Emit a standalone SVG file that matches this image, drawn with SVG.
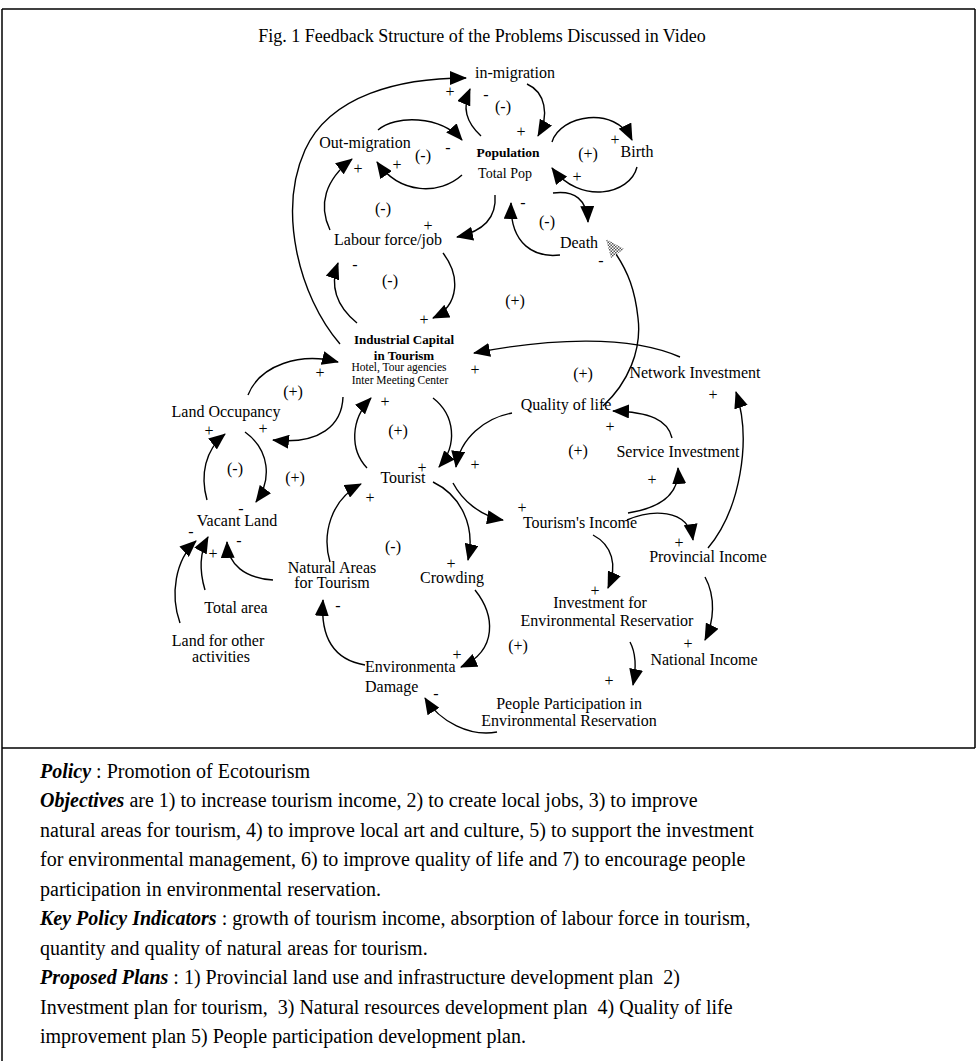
<svg xmlns="http://www.w3.org/2000/svg" width="977" height="1061" viewBox="0 0 977 1061">
<style>
.t{font-family:"Liberation Serif","Times New Roman",serif;font-size:16px;fill:#000;text-anchor:middle}
.s{font-family:"Liberation Serif","Times New Roman",serif;font-size:16px;fill:#000;text-anchor:middle}
.b{font-family:"Liberation Serif","Times New Roman",serif;font-size:13px;font-weight:bold;fill:#000;text-anchor:middle}
.sm{font-family:"Liberation Serif","Times New Roman",serif;font-size:11.5px;fill:#000;text-anchor:middle}
.p{font-family:"Liberation Serif","Times New Roman",serif;font-size:20px;fill:#000;white-space:pre}
.bi{font-weight:bold;font-style:italic}
.c{fill:none;stroke:#000;stroke-width:1.4;marker-end:url(#ah)}
.c0{fill:none;stroke:#000;stroke-width:1.4}
.frame{stroke:#000;stroke-width:1.5;fill:none}
</style>
<defs>
<marker id="ah" viewBox="0 0 17 14" refX="16" refY="7" markerWidth="17" markerHeight="14" markerUnits="userSpaceOnUse" orient="auto">
<path d="M0,0 L17,7 L0,14 z" fill="#000"/>
</marker>
<pattern id="hatch" width="3" height="3" patternUnits="userSpaceOnUse">
<rect width="3" height="3" fill="#fff"/>
<rect width="1.5" height="1.5" fill="#555"/>
<rect x="1.5" y="1.5" width="1.5" height="1.5" fill="#555"/>
</pattern>
</defs>
<rect width="977" height="1061" fill="#fff"/>
<g id="frame">
<line class="frame" x1="2" y1="9" x2="975" y2="9"/>
<line class="frame" x1="2" y1="9" x2="2" y2="1061"/>
<line class="frame" x1="975" y1="9" x2="975" y2="748"/>
<line class="frame" x1="2" y1="748" x2="975" y2="748"/>
</g>
<text id="title" x="482" y="42" class="t" style="font-size:18px">Fig. 1  Feedback Structure of the Problems Discussed in Video</text>

<g id="connectors">
<path class="c" d="M340,344 C298,295 278,210 305,150 C330,95 400,78 466,78"/>
<path class="c" d="M481,136 C466,122 462,108 470,89"/>
<path class="c" d="M527,84 C545,92 550,115 538,136"/>
<path class="c" d="M378,130 C395,115 440,115 462,140"/>
<path class="c" d="M462,175 C440,195 400,195 377,162"/>
<path class="c" d="M330,230 C318,205 325,180 352,159"/>
<path class="c" d="M495,195 C497,220 480,232 457,237"/>
<path class="c" d="M560,255 C535,258 510,245 511,203"/>
<path class="c" d="M552,142 C560,115 615,105 632,140"/>
<path class="c" d="M637,167 C630,195 580,205 552,168"/>
<path class="c" d="M553,193 C575,190 587,200 588,222"/>
<path class="c" d="M443,253 C460,275 460,305 433,318"/>
<path class="c" d="M357,323 C335,305 330,285 338,263"/>
<path class="c" d="M680,357 C630,335 550,338 474,353"/>
<path class="c0" d="M603,406 C628,383 642,350 638,318 C635,290 628,272 616,254"/>
<path class="c" d="M343,397 C342,425 320,445 273,440"/>
<path class="c" d="M248,395 C260,365 300,352 338,362"/>
<path class="c" d="M207,500 C200,475 205,450 225,434"/>
<path class="c" d="M245,432 C270,450 272,480 256,502"/>
<path class="c" d="M433,398 C455,415 458,445 439,467"/>
<path class="c" d="M367,468 C350,450 350,420 371,398"/>
<path class="c" d="M512,413 C485,418 460,438 456,467"/>
<path class="c" d="M330,562 C322,535 330,500 361,484"/>
<path class="c" d="M453,483 C462,500 480,516 503,520"/>
<path class="c" d="M433,482 C460,495 476,525 468,560"/>
<path class="c" d="M672,438 C668,420 650,412 613,411"/>
<path class="c" d="M628,513 C660,508 680,495 678,468"/>
<path class="c" d="M627,520 C650,510 688,507 693,540"/>
<path class="c" d="M708,548 C740,510 752,440 736,392"/>
<path class="c" d="M705,577 C716,597 714,622 705,640"/>
<path class="c" d="M593,535 C612,545 618,565 608,588"/>
<path class="c" d="M630,642 C637,655 636,670 633,685"/>
<path class="c" d="M497,732 C470,737 440,722 425,698"/>
<path class="c" d="M475,590 C495,615 498,650 461,667"/>
<path class="c" d="M365,665 C335,660 320,640 323,600"/>
<path class="c" d="M180,623 C170,595 175,560 196,541"/>
<path class="c" d="M205,590 C199,570 200,552 208,537"/>
<path class="c" d="M273,580 C245,578 228,565 227,542"/>
<polygon points="606,239 611,258 624,249" fill="url(#hatch)"/>
</g>

<g id="signs">
<text class="s" x="450" y="97">+</text>
<text class="s" x="486" y="100">-</text>
<text class="s" x="503" y="112">(-)</text>
<text class="s" x="521" y="137">+</text>
<text class="s" x="448" y="153">-</text>
<text class="s" x="423" y="161">(-)</text>
<text class="s" x="397" y="170">+</text>
<text class="s" x="358" y="174">+</text>
<text class="s" x="383" y="214">(-)</text>
<text class="s" x="428" y="231">+</text>
<text class="s" x="523" y="208">-</text>
<text class="s" x="547" y="227">(-)</text>
<text class="s" x="615" y="145">+</text>
<text class="s" x="588" y="159">(+)</text>
<text class="s" x="577" y="182">+</text>
<text class="s" x="601" y="266">-</text>
<text class="s" x="355" y="270">-</text>
<text class="s" x="390" y="286">(-)</text>
<text class="s" x="424" y="325">+</text>
<text class="s" x="515" y="306">(+)</text>
<text class="s" x="475" y="375">+</text>
<text class="s" x="583" y="379">(+)</text>
<text class="s" x="320" y="378">+</text>
<text class="s" x="293" y="397">(+)</text>
<text class="s" x="263" y="434">+</text>
<text class="s" x="209" y="436">+</text>
<text class="s" x="235" y="474">(-)</text>
<text class="s" x="295" y="483">(+)</text>
<text class="s" x="385" y="407">+</text>
<text class="s" x="398" y="436">(+)</text>
<text class="s" x="422" y="473">+</text>
<text class="s" x="475" y="470">+</text>
<text class="s" x="370" y="503">+</text>
<text class="s" x="610" y="432">+</text>
<text class="s" x="578" y="456">(+)</text>
<text class="s" x="713" y="400">+</text>
<text class="s" x="652" y="485">+</text>
<text class="s" x="522" y="513">+</text>
<text class="s" x="679" y="548">+</text>
<text class="s" x="451" y="569">+</text>
<text class="s" x="595" y="596">+</text>
<text class="s" x="393" y="552">(-)</text>
<text class="s" x="241" y="514">-</text>
<text class="s" x="191" y="537">-</text>
<text class="s" x="213" y="559">+</text>
<text class="s" x="239" y="546">-</text>
<text class="s" x="338" y="611">-</text>
<text class="s" x="457" y="660">+</text>
<text class="s" x="518" y="651">(+)</text>
<text class="s" x="688" y="649">+</text>
<text class="s" x="609" y="686">+</text>
<text class="s" x="436" y="699">-</text>
</g>

<g id="n-inmigration"><text class="t" x="515" y="78">in-migration</text></g>
<g id="n-outmigration"><text class="t" x="365" y="148">Out-migration</text></g>
<g id="n-population"><text class="b" x="508" y="157" style="font-size:13.5px">Population</text><text class="t" x="505" y="178" style="font-size:14px">Total Pop</text></g>
<g id="n-birth"><text class="t" x="637" y="157">Birth</text></g>
<g id="n-death"><text class="t" x="579" y="248">Death</text></g>
<g id="n-labour"><text class="t" x="388" y="245">Labour force/job</text></g>
<g id="n-indcap"><text class="b" x="404" y="344">Industrial Capital</text><text class="b" x="404" y="360">in Tourism</text><text class="sm" x="399" y="371">Hotel, Tour agencies</text><text class="sm" x="400" y="384">Inter Meeting Center</text></g>
<g id="n-network"><text class="t" x="695" y="378">Network Investment</text></g>
<g id="n-landocc"><text class="t" x="226" y="417">Land Occupancy</text></g>
<g id="n-qol"><text class="t" x="566" y="410">Quality of life</text></g>
<g id="n-service"><text class="t" x="678" y="457">Service Investment</text></g>
<g id="n-tourist"><text class="t" x="403" y="483">Tourist</text></g>
<g id="n-vacant"><text class="t" x="237" y="526">Vacant Land</text></g>
<g id="n-tincome"><text class="t" x="580" y="528">Tourism's Income</text></g>
<g id="n-provincial"><text class="t" x="708" y="562">Provincial Income</text></g>
<g id="n-natural"><text class="t" x="332" y="573">Natural Areas</text><text class="t" x="332" y="588">for Tourism</text></g>
<g id="n-crowding"><text class="t" x="452" y="583">Crowding</text></g>
<g id="n-investenv"><text class="t" x="600" y="608">Investment for</text><text class="t" x="607" y="626">Environmental Reservatior</text></g>
<g id="n-totalarea"><text class="t" x="236" y="613">Total area</text></g>
<g id="n-landother"><text class="t" x="218" y="646">Land for other</text><text class="t" x="221" y="662">activities</text></g>
<g id="n-national"><text class="t" x="704" y="665">National Income</text></g>
<g id="n-envdamage"><text class="t" x="365" y="672" style="text-anchor:start">Environmenta</text><text class="t" x="365" y="692" style="text-anchor:start">Damage</text></g>
<g id="n-people"><text class="t" x="569" y="709">People Participation in</text><text class="t" x="569" y="726">Environmental Reservation</text></g>

<g id="policy">
<text class="p" x="40" y="778"><tspan class="bi">Policy</tspan> : Promotion of Ecotourism</text>
<text class="p" x="40" y="807"><tspan class="bi">Objectives</tspan> are 1) to increase tourism income, 2) to create local jobs, 3) to improve</text>
<text class="p" x="40" y="837">natural areas for tourism, 4) to improve local art and culture, 5) to support the investment</text>
<text class="p" x="40" y="866">for environmental management, 6) to improve quality of life and 7) to encourage people</text>
<text class="p" x="40" y="896">participation in environmental reservation.</text>
<text class="p" x="40" y="925"><tspan class="bi">Key Policy Indicators</tspan> : growth of tourism income, absorption of labour force in tourism,</text>
<text class="p" x="40" y="955">quantity and quality of natural areas for tourism.</text>
<text class="p" x="40" y="984"><tspan class="bi">Proposed Plans</tspan> : 1) Provincial land use and infrastructure development plan  2)</text>
<text class="p" x="40" y="1014">Investment plan for tourism,  3) Natural resources development plan  4) Quality of life</text>
<text class="p" x="40" y="1043">improvement plan 5) People participation development plan.</text>
</g>
</svg>
